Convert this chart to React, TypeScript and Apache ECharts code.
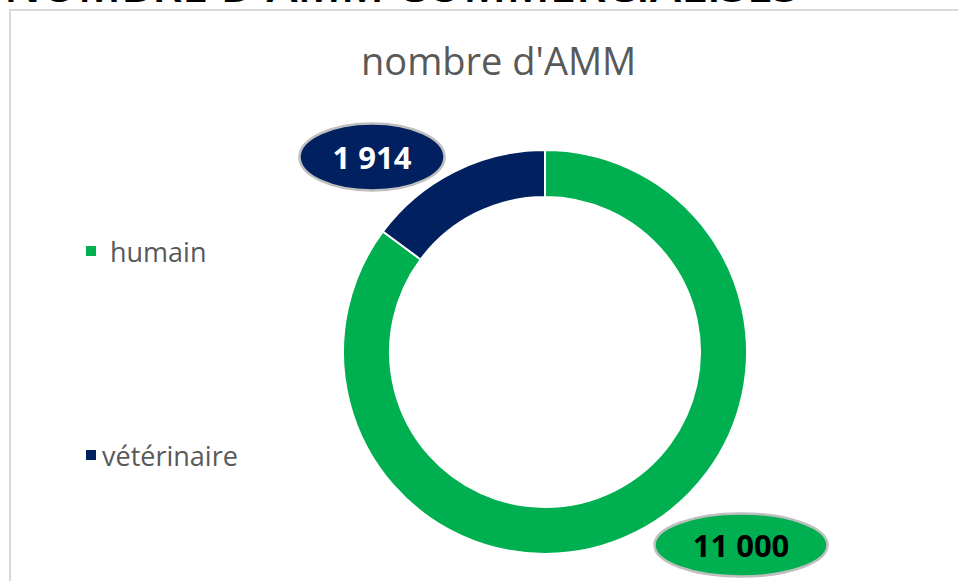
import React, { useEffect, useRef } from "react";
import * as echarts from "echarts";

const categories = ["humain", "vétérinaire"];
const values = [11000, 1914];
const colors = ["#00B050", "#002060"];
const labelColors = ["#000000", "#FFFFFF"];
const chartTitle = "nombre d'AMM";
const pageHeading = "NOMBRE D'AMM COMMERCIALISÉS";

const fmt = (v: number) => String(v).replace(/\B(?=(\d{3})+(?!\d))/g, " ");

const ellipseUrl = (fill: string, w: number, h: number) =>
  "data:image/svg+xml;charset=utf-8," +
  encodeURIComponent(
    `<svg xmlns="http://www.w3.org/2000/svg" width="${w}" height="${h}"><ellipse cx="${w / 2}" cy="${h / 2}" rx="${w / 2 - 1.5}" ry="${h / 2 - 1.5}" fill="${fill}" stroke="#BFBFBF" stroke-width="2.5"/></svg>`
  );

const labelBoxes = [
  { w: 176, h: 66, cx: 741, cy: 545 },
  { w: 148, h: 70, cx: 372, cy: 157 },
];

export default function App() {
  const ref = useRef<HTMLDivElement>(null);
  useEffect(() => {
    document.body.style.margin = "0";
    const chart = echarts.init(ref.current!, null, { renderer: "svg" });
    const FONT = "Open Sans";
    chart.setOption({
      animation: false,
      backgroundColor: "#ffffff",
      textStyle: { fontFamily: FONT },
      title: {
        text: chartTitle,
        left: 356,
        top: 36,
        textStyle: { fontFamily: FONT, fontSize: 38, fontWeight: "normal", color: "#595959" },
      },
      legend: {
        orient: "vertical",
        left: 79,
        top: 231,
        icon: "rect",
        itemWidth: 12,
        itemHeight: 12,
        itemGap: 174,
        data: categories,
        formatter: (name: string) => (name === categories[0] ? `{a|${name}}` : `{b|${name}}`),
        textStyle: {
          fontFamily: FONT,
          fontSize: 27,
          color: "#595959",
          lineHeight: 30,
          rich: {
            a: { fontFamily: FONT, fontSize: 27, color: "#595959", lineHeight: 30, padding: [0, 0, 0, 8] },
            b: { fontFamily: FONT, fontSize: 27, color: "#595959", lineHeight: 30 },
          },
        },
      },
      graphic: [
        {
          type: "rect",
          shape: { x: 10, y: 10, width: 960, height: 590 },
          style: { fill: "none", stroke: "#D9D9D9", lineWidth: 2 },
          silent: true,
        },
        {
          type: "text",
          x: 4,
          y: 7,
          style: {
            text: pageHeading,
            fontFamily: FONT,
            fontSize: 47,
            fontWeight: 600,
            fill: "#000000",
            textAlign: "left",
            textVerticalAlign: "bottom",
          },
          silent: true,
        },
      ],
      series: [
        {
          type: "pie",
          center: [545, 352],
          radius: [155, 202],
          startAngle: 90,
          clockwise: true,
          avoidLabelOverlap: false,
          itemStyle: { borderColor: "#ffffff", borderWidth: 2 },
          labelLine: { show: false },
          data: categories.map((c, i) => ({
            name: c,
            value: values[i],
            itemStyle: { color: colors[i] },
            label: {
              show: true,
              position: "outside",
              formatter: fmt(values[i]),
              width: labelBoxes[i].w,
              height: labelBoxes[i].h,
              lineHeight: labelBoxes[i].h,
              align: "center",
              verticalAlign: "middle",
              backgroundColor: { image: ellipseUrl(colors[i], labelBoxes[i].w, labelBoxes[i].h) },
              color: labelColors[i],
              fontFamily: FONT,
              fontWeight: "bold",
              fontSize: 31,
            },
          })),
          labelLayout: (params: any) => {
            const b = labelBoxes[params.dataIndex];
            return { x: b.cx, y: b.cy, align: "center", verticalAlign: "middle" };
          },
        },
      ],
    });
    return () => chart.dispose();
  }, []);
  return <div ref={ref} style={{ width: 958, height: 581 }} />;
}
